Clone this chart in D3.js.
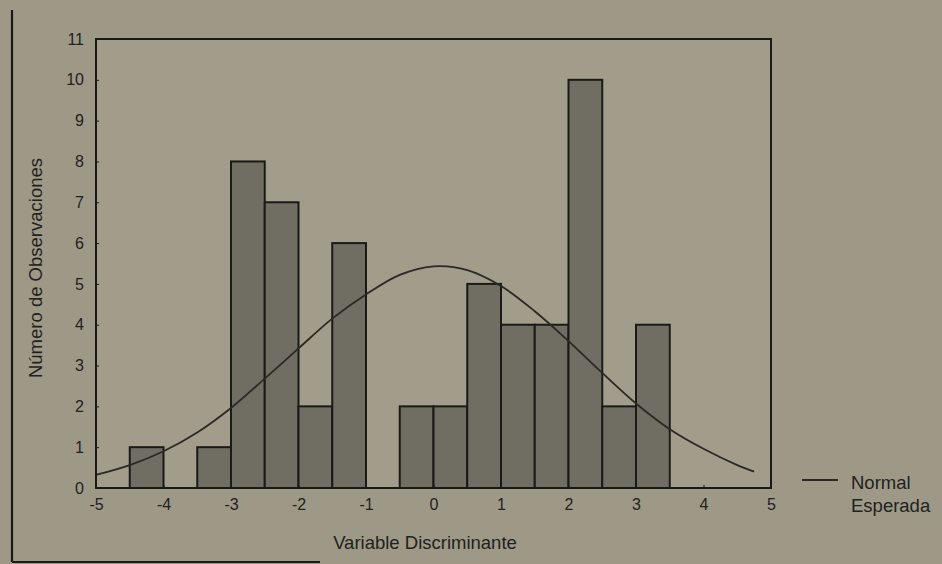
<!DOCTYPE html>
<html>
<head>
<meta charset="utf-8">
<script src="https://cdn.jsdelivr.net/npm/d3@7"></script>
<style>
  body { margin: 0; background: #9d9986; }
  svg { display: block; font-family: "Liberation Sans", Arial, sans-serif; }
</style>
</head>
<body>
<div id="chart"></div>
<script>
// histogram bins (left edge, width 0.5) and counts
const binStarts = [-4.5, -3.5, -3, -2.5, -2, -1.5, -0.5, 0, 0.5, 1, 1.5, 2, 2.5, 3];
const binCounts = [1, 1, 8, 7, 2, 6, 2, 2, 5, 4, 4, 10, 2, 4];
const binWidth = 0.5;

// expected normal curve
const curveX = [-5, -4.5, -4, -3.5, -3, -2.5, -2, -1.5, -1, -0.5, 0, 0.5, 1, 1.5, 2, 2.5, 3, 3.5, 4, 4.5, 4.75];
const curveY = [0.32, 0.56, 0.9, 1.36, 1.96, 2.68, 3.42, 4.15, 4.74, 5.22, 5.43, 5.34, 4.95, 4.33, 3.6, 2.82, 2.07, 1.44, 0.96, 0.56, 0.4];

const xTicks = [-5, -4, -3, -2, -1, 0, 1, 2, 3, 4, 5];
const yTicks = [0, 1, 2, 3, 4, 5, 6, 7, 8, 9, 10, 11];

const w = 942, h = 564;
const padLeft = 96, padRight = 771, padTop = 39, padBot = 488;
const ink = "#22211e";

const svg = d3.select("#chart").append("svg")
  .attr("width", w)
  .attr("height", h);

// scanned page frame
svg.append("line").attr("x1", 12).attr("x2", 12).attr("y1", 10).attr("y2", 562)
  .attr("stroke", "#1a1a18").attr("stroke-width", 2.2);
svg.append("line").attr("x1", 12).attr("x2", 320).attr("y1", 562).attr("y2", 562)
  .attr("stroke", "#1a1a18").attr("stroke-width", 2.2);

const x = d3.scaleLinear().domain([-5, 5]).range([padLeft, padRight]);
const y = d3.scaleLinear().domain([0, 11]).range([padBot, padTop]);

// plot area
svg.append("rect")
  .attr("x", padLeft).attr("y", padTop)
  .attr("width", padRight - padLeft).attr("height", padBot - padTop)
  .attr("fill", "#a19d8a");

// bars
svg.selectAll("rect.bar")
  .data(binStarts.map((s, i) => ({ s, c: binCounts[i] })))
  .enter()
  .append("rect")
  .attr("class", "bar")
  .attr("x", d => x(d.s))
  .attr("y", d => y(d.c))
  .attr("width", d => x(d.s + binWidth) - x(d.s))
  .attr("height", d => y(0) - y(d.c))
  .attr("fill", "#706d62")
  .attr("stroke", "#1a1a18")
  .attr("stroke-width", 2);

// normal curve
const line = d3.line()
  .x(d => x(d[0]))
  .y(d => y(d[1]))
  .curve(d3.curveCatmullRom);
svg.append("path")
  .datum(curveX.map((v, i) => [v, curveY[i]]))
  .attr("d", line)
  .attr("fill", "none")
  .attr("stroke", "#2a2925")
  .attr("stroke-width", 1.8);

// plot frame
svg.append("rect")
  .attr("x", padLeft).attr("y", padTop)
  .attr("width", padRight - padLeft).attr("height", padBot - padTop)
  .attr("fill", "none")
  .attr("stroke", "#1a1a18")
  .attr("stroke-width", 2);

// axes (plain hyphen minus like the original)
const fmt = d => String(d);
const yAxis = d3.axisLeft(y).tickValues(yTicks).tickFormat(fmt).tickSize(-3).tickPadding(12);
const gy = svg.append("g")
  .attr("transform", `translate(${padLeft}, 0)`)
  .call(yAxis);
const xAxis = d3.axisBottom(x).tickValues(xTicks).tickFormat(fmt).tickSize(-3).tickPadding(11);
const gx = svg.append("g")
  .attr("transform", `translate(0, ${padBot})`)
  .call(xAxis);
[gx, gy].forEach(g => {
  g.select(".domain").remove();
  g.selectAll(".tick line").attr("stroke", "#1a1a18");
  g.selectAll(".tick text")
    .attr("fill", ink)
    .style("font-size", "16px");
});

// axis titles
svg.append("text")
  .text("Variable Discriminante")
  .attr("x", 425).attr("y", 549)
  .attr("text-anchor", "middle")
  .attr("fill", ink)
  .style("font-size", "18.5px");
svg.append("text")
  .text("Número de Observaciones")
  .attr("transform", "translate(42, 268) rotate(-90)")
  .attr("text-anchor", "middle")
  .attr("fill", ink)
  .style("font-size", "18.5px");

// legend
svg.append("line")
  .attr("x1", 802).attr("x2", 838).attr("y1", 480).attr("y2", 480)
  .attr("stroke", "#2a2925").attr("stroke-width", 1.8);
svg.append("text").text("Normal")
  .attr("x", 851).attr("y", 489)
  .attr("fill", ink).style("font-size", "18.5px");
svg.append("text").text("Esperada")
  .attr("x", 851).attr("y", 512)
  .attr("fill", ink).style("font-size", "18.5px");
</script>
</body>
</html>
